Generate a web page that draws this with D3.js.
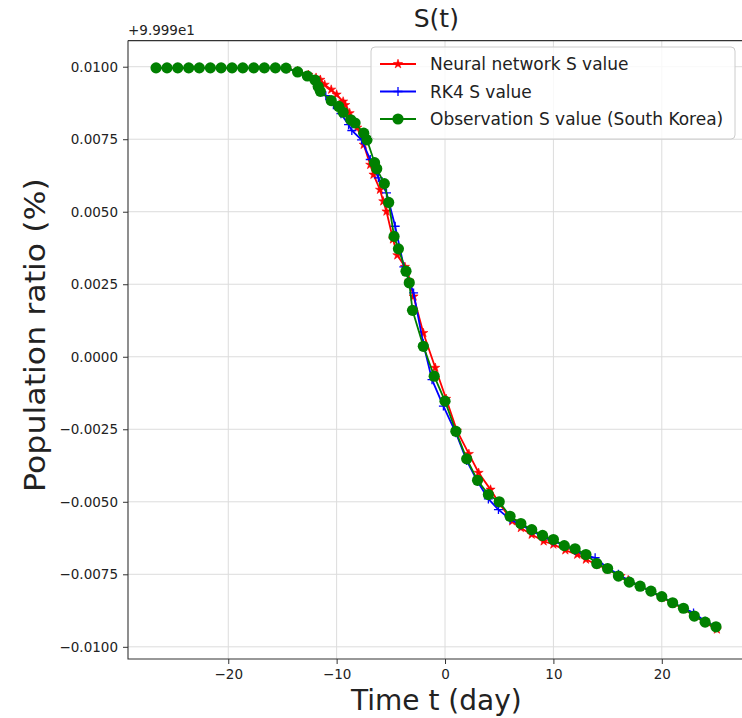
<!DOCTYPE html>
<html>
<head>
<meta charset="utf-8">
<title>S(t)</title>
<style>
body { margin: 0; background: #fff; }
svg text { font-family: "DejaVu Sans", sans-serif; fill: #222; }
</style>
</head>
<body>
<svg width="742" height="718"></svg>
<script src="https://cdn.jsdelivr.net/npm/d3@7"></script>
<script>
// values (offset +9.999e1 like the original axis)
var obsT = [-26.66,-25.65,-24.66,-23.65,-22.67,-21.65,-20.66,-19.65,-18.66,-17.65,-16.67,-15.65,
  -14.67,-13.6,-12.7,-12.0,-11.7,-11.5,-10.5,-9.8,-9.4,-8.7,-8.3,-7.5,-7.2,-6.5,-6.3,-5.6,-5.2,-4.7,-4.3,-3.6,-3.3,-3.0,-2.0,-1.0,
  0,1,2,3,4,5,6,7,8,9,10,11,12,13,14,15,16,17,18,19,20,21,22,23,24,25];
var obsS = [0.00996,0.00996,0.00996,0.00996,0.00996,0.00996,0.00996,0.00996,0.00996,0.00996,0.00996,0.00996,
  0.00995,0.00982,0.00968,0.00954,0.00932,0.00915,0.00883,0.00863,0.00843,0.00817,0.00806,0.00771,0.00748,0.00669,0.00648,0.00597,0.00532,0.00415,0.00372,0.00295,0.00255,0.00160,0.00036,-0.00067,
  -0.00153,-0.00257,-0.00352,-0.00426,-0.00475,-0.00500,-0.00550,-0.00575,-0.00596,-0.00616,-0.00630,-0.00651,-0.00662,-0.00682,-0.00713,-0.00730,-0.00756,-0.00777,-0.00791,-0.00808,-0.00827,-0.00848,-0.00867,-0.00894,-0.00915,-0.00931];

var nnT = [-26.66,-25.65,-24.66,-23.65,-22.67,-21.65,-20.66,-19.65,-18.66,-17.65,-16.67,-15.65,
  -14.6,-13.6,-12.6,-11.9,-11.5,-11.1,-10.5,-10.0,-9.4,-9.2,-8.8,-8.1,-7.5,-6.9,-6.6,-6.0,-5.7,-5.4,-4.8,-4.4,-3.7,-3.3,-2.9,-2.0,-0.9,
  0.1,1.1,2.2,3.1,4.2,5.0,6.2,7.0,8.0,9.1,10.0,11.1,12.2,13.0,14.0,15.0,16.2,16.9,18.0,19.0,20.0,21.0,22.0,23.0,24.0,25.08];
var nnS = [0.00996,0.00996,0.00996,0.00996,0.00996,0.00996,0.00996,0.00996,0.00996,0.00996,0.00996,0.00996,
  0.00994,0.00985,0.00972,0.00962,0.00955,0.00938,0.00921,0.00904,0.00880,0.00868,0.00840,0.00790,0.00731,0.00662,0.00628,0.00576,0.00536,0.00501,0.00405,0.00350,0.00310,0.00262,0.00208,0.00082,-0.00038,
  -0.00145,-0.00255,-0.00335,-0.00400,-0.00458,-0.00505,-0.00567,-0.00590,-0.00613,-0.00636,-0.00647,-0.00667,-0.00682,-0.00699,-0.00716,-0.00733,-0.00756,-0.00770,-0.00791,-0.00810,-0.00830,-0.00850,-0.00869,-0.00894,-0.00916,-0.00940];

var rkT = [-26.66,-25.65,-24.66,-23.65,-22.67,-21.65,-20.66,-19.65,-18.66,-17.65,-16.67,-15.65,
  -14.6,-13.6,-12.6,-11.7,-11.0,-10.3,-9.6,-8.9,-8.6,-7.7,-6.9,-6.15,-5.4,-4.6,-3.8,-2.9,-2.0,-1.2,-0.15,
  1,2,3,4,4.93,6,7,8,9,10,11,12,13,13.85,15,16,17,18,19,20,21,22,22.93,24,25];
var rkS = [0.00996,0.00996,0.00996,0.00996,0.00996,0.00996,0.00996,0.00996,0.00996,0.00996,0.00996,0.00996,
  0.00993,0.00982,0.00968,0.00935,0.00900,0.00869,0.00838,0.00800,0.00780,0.00748,0.00680,0.00617,0.00565,0.00450,0.00310,0.00220,0.00045,-0.00079,-0.00170,
  -0.00262,-0.00358,-0.00430,-0.00490,-0.00527,-0.00560,-0.00580,-0.00600,-0.00620,-0.00635,-0.00650,-0.00668,-0.00685,-0.00693,-0.00728,-0.00750,-0.00773,-0.00790,-0.00810,-0.00828,-0.00847,-0.00866,-0.00883,-0.00912,-0.00930];

var xTicks = [-20, -10, 0, 10, 20];
var yTicks = [-0.01, -0.0075, -0.005, -0.0025, 0, 0.0025, 0.005, 0.0075, 0.01];
var seriesNames = ["Neural network S value", "RK4 S value", "Observation S value (South Korea)"];
var seriesColors = ["#ff0000", "#0000ff", "#008000"];

function zip(t, s) { return t.map(function(d, i) { return {t: d, s: s[i]}; }); }
var series = [zip(nnT, nnS), zip(rkT, rkS), zip(obsT, obsS)];

var svg = d3.select("svg");
var axL = 128, axR = 744.7, axT = 40.6, axB = 659;

var x = d3.scaleLinear().domain([-29.25, 27.65]).range([axL, axR]);
var y = d3.scaleLinear().domain([-0.01042, 0.0109]).range([axB, axT]);

var minus = function(s) { return s.replace("-", "\u2212"); };

// grid
svg.append("g").selectAll("line").data(xTicks).enter().append("line")
    .attr("x1", function(d) { return x(d); }).attr("x2", function(d) { return x(d); })
    .attr("y1", axT).attr("y2", axB)
    .attr("stroke", "#dcdcdc").attr("stroke-width", 1);
svg.append("g").selectAll("line").data(yTicks).enter().append("line")
    .attr("y1", function(d) { return y(d); }).attr("y2", function(d) { return y(d); })
    .attr("x1", axL).attr("x2", axR)
    .attr("stroke", "#dcdcdc").attr("stroke-width", 1);

// axes
var xAxis = svg.append("g")
    .attr("transform", "translate(0," + axB + ")")
    .call(d3.axisBottom(x).tickValues(xTicks).tickSize(5).tickPadding(5)
      .tickFormat(function(d) { return minus(d3.format("d")(d)); }));
var yAxis = svg.append("g")
    .attr("transform", "translate(" + axL + ",0)")
    .call(d3.axisLeft(y).tickValues(yTicks).tickSize(5).tickPadding(5)
      .tickFormat(function(d) { return minus(d3.format(".4f")(d)); }));
[xAxis, yAxis].forEach(function(a) {
  a.select(".domain").remove();
  a.selectAll("line").attr("stroke", "#333");
  a.selectAll("text").attr("font-size", "13.5px").attr("font-family", "DejaVu Sans").attr("fill", "#222");
});

// spines (right spine falls outside the picture)
svg.append("path")
    .attr("d", "M" + axL + "," + axT + "H" + axR + "M" + axL + "," + axT + "V" + axB + "H" + axR)
    .attr("fill", "none").attr("stroke", "#333").attr("stroke-width", 1.1);

var line = d3.line().x(function(d) { return x(d.t); }).y(function(d) { return y(d.s); });
var star = d3.symbol().type(d3.symbolStar).size(26);
var plus = "M-4.5,0H4.5M0,-4.5V4.5";

function drawMarker(sel, k, color) {
  if (k == 0) {
    sel.append("path").attr("d", star).attr("fill", color).attr("stroke", color).attr("stroke-width", 0.6);
  } else if (k == 1) {
    sel.append("path").attr("d", plus).attr("fill", "none").attr("stroke", color).attr("stroke-width", 1.3);
  } else {
    sel.append("circle").attr("r", 5.6).attr("fill", color);
  }
}

var plot = svg.append("g");
series.forEach(function(data, k) {
  var g = plot.append("g");
  g.append("path").datum(data)
      .attr("d", line)
      .attr("fill", "none")
      .attr("stroke", seriesColors[k])
      .attr("stroke-width", 1.8);
  g.selectAll("g.m").data(data).enter().append("g")
      .attr("class", "m")
      .attr("transform", function(d) { return "translate(" + x(d.t) + "," + y(d.s) + ")"; })
      .each(function() { drawMarker(d3.select(this), k, seriesColors[k]); });
});

// legend
var lg = svg.append("g").attr("transform", "translate(371,47)");
lg.append("rect")
    .attr("width", 364).attr("height", 92).attr("rx", 4)
    .attr("fill", "#fff").attr("fill-opacity", 0.8)
    .attr("stroke", "#cccccc");
seriesNames.forEach(function(name, k) {
  var row = lg.append("g").attr("transform", "translate(0," + (17 + k * 27.5) + ")");
  row.append("line").attr("x1", 9).attr("x2", 45).attr("y1", 0).attr("y2", 0)
      .attr("stroke", seriesColors[k]).attr("stroke-width", 1.8);
  drawMarker(row.append("g").attr("transform", "translate(27,0)"), k, seriesColors[k]);
  row.append("text").attr("x", 59).attr("y", 6)
      .attr("font-size", "17px")
      .text(name);
});

// titles and labels
svg.append("text")
    .attr("x", (axL + axR) / 2).attr("y", 27)
    .attr("text-anchor", "middle")
    .attr("font-size", "25px")
    .text("S(t)");
svg.append("text")
    .attr("x", axL).attr("y", 35)
    .attr("font-size", "13.5px")
    .text("+9.999e1");
svg.append("text")
    .attr("x", (axL + axR) / 2).attr("y", 710)
    .attr("text-anchor", "middle")
    .attr("font-size", "28px")
    .text("Time t (day)");
// the y label is drawn a little stretched along its length, as in the picture
svg.append("text")
    .attr("transform", "translate(45,335) rotate(-90) scale(1.13,1)")
    .attr("text-anchor", "middle")
    .attr("font-size", "28px")
    .text("Population ratio (%)");
</script>
</body>
</html>
